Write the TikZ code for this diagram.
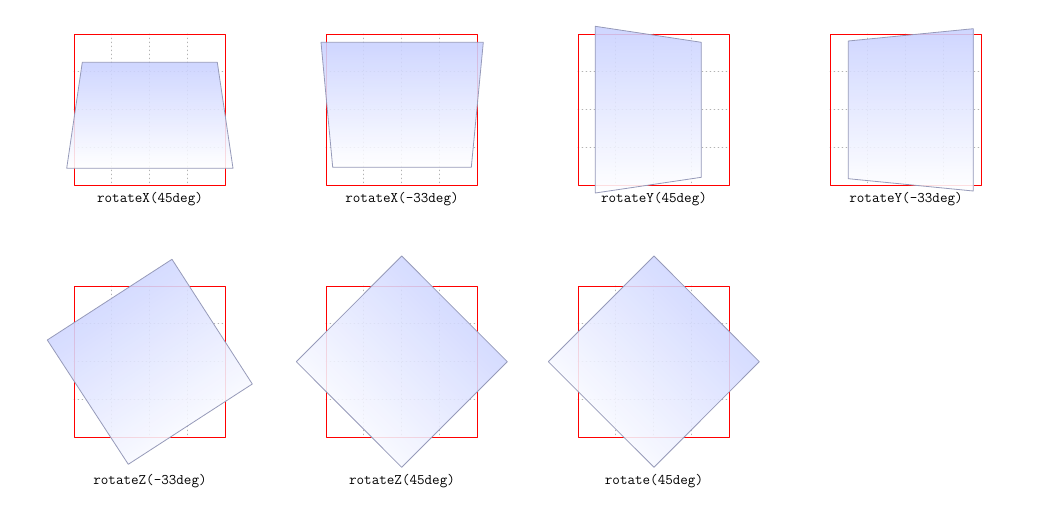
\documentclass[tikz,border=0pt]{standalone}
\definecolor{cardblue}{RGB}{200,208,255}
\definecolor{cardedge}{RGB}{150,154,185}
\begin{document}
\begin{tikzpicture}[x=0.75pt,y=-0.75pt, line cap=round, line join=round,
  frame/.style={draw=red, line width=0.75pt},
  gridline/.style={draw=black!30, line width=0.6pt, dash pattern=on 0.6pt off 2.4pt},
  card/.style={top color=cardblue, bottom color=white, fill opacity=0.88, draw=cardedge, line width=0.6pt},
  every node/.style={font=\ttfamily\fontsize{11}{13}\selectfont, inner sep=0pt}]
  \useasboundingbox (0,0) rectangle (1056,521);
  % frames and dotted grids
  \foreach \cx/\cy in {74/34, 326/34, 578/34, 830/34, 74/286, 326/286, 578/286} {
    \foreach \k in {1,2,3} {
      \draw[gridline] (\cx+37.75*\k,\cy) -- (\cx+37.75*\k,\cy+151);
      \draw[gridline] (\cx,\cy+37.75*\k) -- (\cx+151,\cy+37.75*\k);
    }
    \draw[frame] (\cx,\cy) rectangle (\cx+151,\cy+151);
  }
  % rotateX
  \shade[card] (82.3,62.3) -- (217.3,62.3) -- (233,168.3) -- (66.7,168.3) -- cycle;
  \shade[card] (321,42.3) -- (483.3,42.3) -- (471.3,167.3) -- (332.7,167.3) -- cycle;
  % rotateY
  \shade[card] (595.3,26.3) -- (701.3,42.3) -- (701.3,177.3) -- (595.3,193) -- cycle;
  \shade[card] (848.3,41) -- (973.3,28.7) -- (973.3,191) -- (848.3,178.7) -- cycle;
  % rotateZ and rotate
  \shade[card, shading angle=33] (47.3,340) -- (172,259.3) -- (252.3,384) -- (128.3,464.3) -- cycle;
  \shade[card, shading angle=-45] (296.3,361.7) -- (401.7,256) -- (507.3,361.7) -- (401.7,467.3) -- cycle;
  \shade[card, shading angle=-45] (548.3,361.7) -- (654,256) -- (759.3,361.7) -- (654,467.3) -- cycle;
  % labels
  \node (rx45) at (150,199) {rotateX(45deg)};
  \node (rxm33) at (402,199) {rotateX(-33deg)};
  \node (ry45) at (654,199) {rotateY(45deg)};
  \node (rym33) at (906,199) {rotateY(-33deg)};
  \node (rzm33) at (150,481) {rotateZ(-33deg)};
  \node (rz45) at (402,481) {rotateZ(45deg)};
  \node (r45) at (654,481) {rotate(45deg)};
\end{tikzpicture}
\end{document}
